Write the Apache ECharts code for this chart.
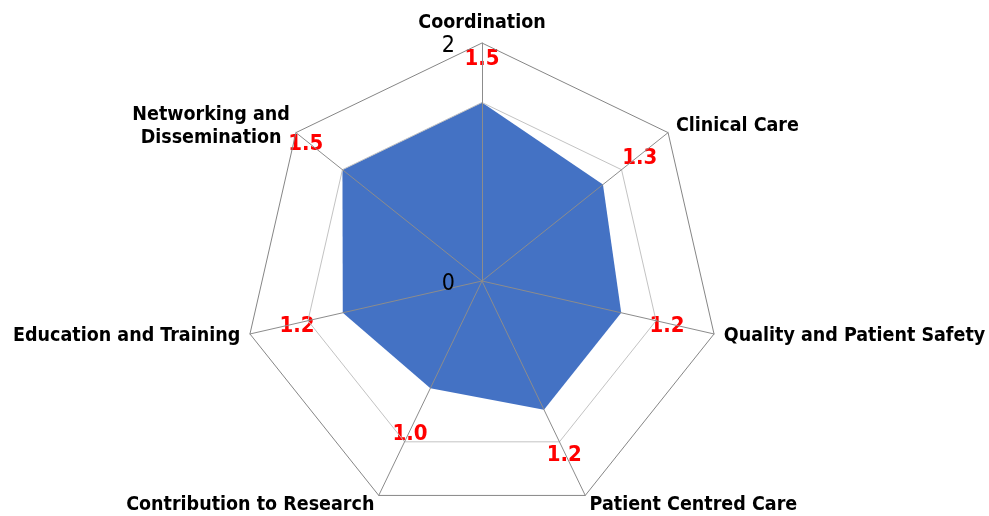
<!DOCTYPE html>
<html>
<head>
<meta charset="utf-8">
<script src="https://cdn.jsdelivr.net/npm/echarts@6/dist/echarts.min.js"></script>
<style>
  html, body { margin: 0; padding: 0; background: #ffffff; }
  #chart { width: 989px; height: 516px; }
</style>
</head>
<body>
<div id="chart"></div>
<script>
// Capability areas, listed clockwise starting from the top spoke
const categories = [
  'Coordination',
  'Clinical Care',
  'Quality and Patient Safety',
  'Patient Centred Care',
  'Contribution to Research',
  'Education and Training',
  'Networking and Dissemination'
];
const scores = [1.5, 1.3, 1.2, 1.2, 1.0, 1.2, 1.5];
const scaleMax = 2;
const shownTicks = [0, 2];

const FONT = '"DejaVu Sans Condensed", "DejaVu Sans", sans-serif';

// ECharts lays radar spokes out counter-clockwise, so keep the first one at the
// top and walk the rest backwards to read clockwise on screen.
const order = [0];
for (let i = categories.length - 1; i >= 1; i--) order.push(i);

const indicators = order.map(function (k, j) {
  const ind = { name: categories[k], max: scaleMax, min: 0 };
  ind.axisLabel = j === 0
    ? {
        show: true,
        margin: 27,
        color: '#000000',
        formatter: function (v) {
          return shownTicks.indexOf(v) >= 0 ? '{t|' + v + '}' : '';
        },
        rich: {
          t: {
            color: '#000000',
            fontFamily: FONT,
            fontSize: 23,
            padding: [7, 0, 0, 0]
          }
        }
      }
    : { show: false };
  return ind;
});
const seriesValues = order.map(function (k) { return scores[k]; });

// Value labels sit a fixed distance outward from each vertex, along its spoke.
const LABEL_OUT = 47;
const LABEL_DROP = 3.5;
const n = categories.length;
const rich = {};
for (let j = 0; j < n; j++) {
  const a = Math.PI / 2 + j * 2 * Math.PI / n;
  const dx = LABEL_OUT * Math.cos(a);
  const dy = -LABEL_OUT * Math.sin(a) + LABEL_DROP;
  rich['v' + j] = {
    color: '#ff0000',
    fontFamily: FONT,
    fontWeight: 'bold',
    fontSize: 22,
    padding: [
      Math.max(0, 2 * dy),
      Math.max(0, -2 * dx),
      Math.max(0, -2 * dy),
      Math.max(0, 2 * dx)
    ]
  };
}

const chart = echarts.init(document.getElementById('chart'), null, { renderer: 'canvas' });

chart.setOption({
  animation: false,
  backgroundColor: '#ffffff',
  radar: {
    z: 3,
    center: [482, 281],
    radius: 238,
    startAngle: 90,
    shape: 'polygon',
    splitNumber: 4,
    indicator: indicators,
    axisNameGap: 10,
    axisName: {
      color: '#000000',
      fontFamily: FONT,
      fontWeight: 'bold',
      fontSize: 19.5,
      formatter: function (name) {
        if (name === 'Networking and Dissemination') {
          return '{c|Networking and}\n{c|Dissemination}';
        }
        return name;
      },
      rich: {
        c: {
          color: '#000000',
          fontFamily: FONT,
          fontWeight: 'bold',
          fontSize: 19.5,
          width: 154,
          align: 'center',
          lineHeight: 23
        }
      }
    },
    axisLine: { show: true, lineStyle: { color: '#8c8c8c', width: 1 } },
    axisTick: { show: false },
    splitLine: {
      show: true,
      lineStyle: {
        color: ['rgba(0,0,0,0)', 'rgba(0,0,0,0)', 'rgba(0,0,0,0)', '#c3c3c3', '#868686'],
        width: 1
      }
    },
    splitArea: { show: false }
  },
  series: [{
    type: 'radar',
    z: 2,
    symbol: 'circle',
    symbolSize: 0.1,
    lineStyle: { width: 0, color: '#4472c4' },
    itemStyle: { color: '#4472c4' },
    areaStyle: { color: '#4472c4', opacity: 1 },
    label: {
      show: true,
      position: 'inside',
      formatter: function (p) {
        const j = p.dimensionIndex;
        return '{v' + j + '|' + Number(p.value).toFixed(1) + '}';
      },
      rich: rich
    },
    data: [{ value: seriesValues, name: 'Score' }]
  }]
});
</script>
</body>
</html>
